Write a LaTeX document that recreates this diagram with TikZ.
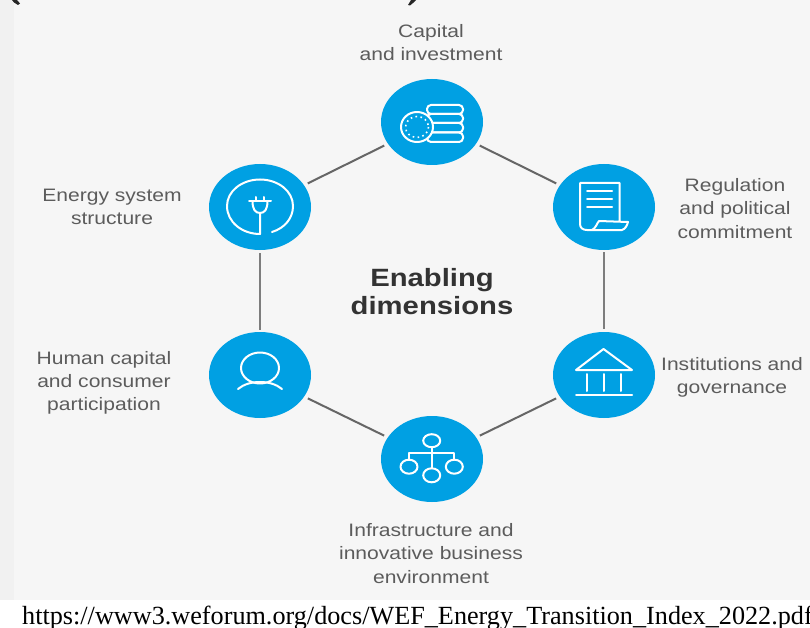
\documentclass[tikz,border=0pt]{standalone}
\usepackage{fontspec}
\usetikzlibrary{shapes.geometric}
\setmainfont[FakeStretch=1.17]{Liberation Sans}
\newfontfamily\urlfont{Liberation Serif}
\definecolor{panelbg}{HTML}{F6F6F6}
\definecolor{stripbg}{HTML}{F1F1F1}
\definecolor{bubble}{HTML}{00A0E3}
\definecolor{labelgrey}{HTML}{5C5C5C}
\definecolor{linkgrey}{HTML}{666666}
\tikzset{
  bubblenode/.style={ellipse,fill=bubble,minimum width=102pt,minimum height=86pt,inner sep=0pt},
  lab/.style={align=center,text=labelgrey,font=\fontsize{18}{23.2}\selectfont,inner sep=0pt},
  titlelab/.style={align=center,text=black!80,font=\fontsize{25}{28}\selectfont\bfseries,inner sep=0pt},
  urltext/.style={font=\urlfont\fontsize{26.2}{28}\selectfont,text=black,inner sep=0pt,anchor=base west},
  link/.style={draw=linkgrey,line width=2pt,shorten >=4pt,shorten <=4pt},
  vlink/.style={draw=linkgrey!85,line width=2.5pt,shorten >=2.5pt,shorten <=2pt},
  icon/.style={draw=white,line width=2pt,line cap=round,line join=round},
  coinbar/.style={draw=white,line width=2pt,rounded corners=4pt},
}
\begin{document}
\begin{tikzpicture}[x=1pt,y=-1pt]
\clip (0,0) rectangle (810,628);
\fill[white] (0,0) rectangle (810,628);
\fill[stripbg] (0,0) rectangle (14,600);
\fill[panelbg] (14,0) rectangle (810,600);
% clipped fragments of a heading at the very top
\fill[black!85] (12,0) -- (17,0) -- (20,3.5) -- (18,5) -- (14,2.5) -- cycle;
\fill[black!85] (408,5) -- (411,0) -- (416,0) -- (413,3) -- (410,5.5) -- cycle;

% nodes
\node[bubblenode] (cap) at (432,122) {};
\node[bubblenode] (reg) at (604,207) {};
\node[bubblenode] (inst) at (604,375) {};
\node[bubblenode] (infra) at (432,459) {};
\node[bubblenode] (human) at (260,375) {};
\node[bubblenode] (energy) at (260,207) {};

% connectors
\draw[link] (cap) -- (reg);
\draw[vlink] (reg) -- (inst);
\draw[link] (inst) -- (infra);
\draw[link] (infra) -- (human);
\draw[vlink] (human) -- (energy);
\draw[link] (energy) -- (cap);

% labels
\node[lab] (capl) at (431,42.5) {Capital\\and investment};
\node[lab] (regl) at (735,208.5) {Regulation\\and political\\commitment};
\node[lab] (instl) at (732,377) {Institutions and\\governance};
\node[lab] (infral) at (431,553.5) {Infrastructure and\\innovative business\\environment};
\node[lab] (humanl) at (104,383) {Human capital\\and consumer\\participation};
\node[lab] (energyl) at (112,207) {Energy system\\structure};
\node[titlelab] (title) at (432,291.5) {Enabling\\dimensions};
\node[urltext] (url) at (22,624) {https://www3.weforum.org/docs/WEF\_Energy\_Transition\_Index\_2022.pdf};

% icon: coins
\draw[coinbar] (427,105) rectangle (463,114);
\draw[coinbar] (427,114) rectangle (463,123);
\draw[coinbar] (427,123) rectangle (463,132.5);
\draw[coinbar] (427,132.5) rectangle (463,142);
\draw[icon,fill=bubble] (417,127) ellipse[x radius=16,y radius=15];
\draw[draw=white,line width=1.6pt,dash pattern=on 1.6pt off 3.4pt] (417,127) ellipse[x radius=11.5,y radius=10.5];

% icon: document
\draw[icon] (619.5,221) -- (619.5,183) -- (580,183) -- (580,224) .. controls (580,228) and (583,230) .. (587,230) -- (622,230) .. controls (625,229) and (627,226) .. (628,222) -- (599,221) .. controls (597,223) and (596,228) .. (592,230);
\draw[icon] (587,191) -- (612,191) (587,199) -- (612,199) (587,207) -- (612,207);

% icon: plug
\draw[icon] (272,232) .. controls (285,228) and (293,218) .. (293,206) .. controls (293,191) and (278,179.5) .. (260,179.5) .. controls (242,179.5) and (227,191) .. (227,206) .. controls (227,222) and (242,234) .. (260,234) -- (260,213);
\draw[icon] (249,201) -- (271,201) (256,197) -- (256,201) (264,197) -- (264,201);
\draw[icon] (252.5,201) .. controls (252.5,209) and (255,213) .. (260,213) .. controls (265,213) and (267.5,209) .. (267.5,201);

% icon: person
\draw[icon] (260,368) ellipse[x radius=19,y radius=15.5];
\draw[icon] (238,389) .. controls (244,384) and (252,382) .. (260,382) .. controls (268,382) and (276,384) .. (282,389);

% icon: building
\draw[icon] (576,370) -- (603.5,349) -- (632,370) -- cycle;
\draw[icon] (587,374) -- (587,391) (604,374) -- (604,391) (621,374) -- (621,391);
\draw[icon] (576,395) -- (632,395);

% icon: hierarchy
\draw[icon] (431.7,440.7) ellipse[x radius=8.5,y radius=6.5];
\draw[icon] (409,466.7) ellipse[x radius=8.5,y radius=7];
\draw[icon] (454.3,466.7) ellipse[x radius=8.5,y radius=7];
\draw[icon] (431.7,475.3) ellipse[x radius=8.5,y radius=7];
\draw[icon] (431.7,447.2) -- (431.7,468.3);
\draw[icon] (409,459.7) -- (409,453.3) -- (454.3,453.3) -- (454.3,459.7);
\end{tikzpicture}
\end{document}
